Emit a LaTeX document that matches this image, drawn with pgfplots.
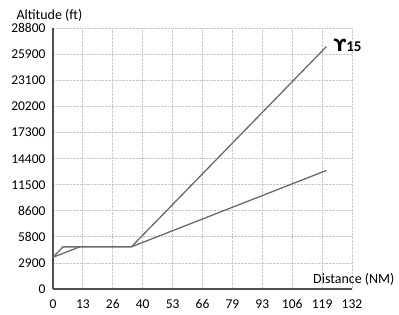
\documentclass[border=0pt]{standalone}
\usepackage{fontspec}
\setmainfont{Carlito}
\newfontfamily\dejavu{DejaVu Sans}
\usepackage{pgfplots}
\pgfplotsset{compat=1.18}
\usetikzlibrary{calc}
\definecolor{axgray}{HTML}{505050}
\definecolor{linegray}{HTML}{6A6A6A}
\definecolor{gridgray}{HTML}{C8C8C8}
\begin{document}
\begin{tikzpicture}
\begin{axis}[
  name=ax,
  scale only axis,
  width=299pt, height=261pt,
  xmin=0, xmax=132, ymin=0, ymax=28800,
  scaled ticks=false,
  axis x line*=bottom, axis y line*=left,
  axis line style={axgray, line width=1.2pt, -},
  xtick={0,13.2,26.4,39.6,52.8,66,79.2,92.4,105.6,118.8,132},
  xticklabels={0,13,26,40,53,66,79,93,106,119,132},
  ytick={0,2880,5760,8640,11520,14400,17280,20160,23040,25920,28800},
  yticklabels={0,2900,5800,8600,11500,14400,17300,20200,23100,25900,28800},
  major tick length=0pt,
  grid=major,
  major grid style={gridgray, densely dotted, line width=0.8pt},
  tick label style={font=\fontsize{13.5}{15}\selectfont, text=black},
  /pgf/number format/assume math mode=true,
  xticklabel style={anchor=base, yshift=-19pt},
  yticklabel style={anchor=base east, xshift=-4pt, yshift=-4.5pt},
  clip=false,
]
\addplot[linegray, line width=1.3pt] coordinates {(0,3500) (4.4,4650) (11.8,4650) (34.6,4650) (120.7,26750)};
\addplot[linegray, line width=1.3pt] coordinates {(0,3500) (11.8,4650)};
\addplot[linegray, line width=1.3pt] coordinates {(34.6,4650) (120.7,13080)};
\node[anchor=west, font=\fontsize{14}{16}\selectfont] at ($(rel axis cs:0,1)+(-40pt,12.5pt)$) {Altitude (ft)};
\node[anchor=east, font=\fontsize{14}{16}\selectfont] at ($(rel axis cs:1,0)+(46pt,10pt)$) {Distance (NM)};
\node[anchor=west, font=\bfseries, inner sep=0pt] at ($(axis cs:120.7,26750)+(7pt,1pt)$) {{\dejavu\fontsize{17}{19}\selectfont ϒ}{\fontsize{15}{17}\selectfont 15}};
\end{axis}
\pgfresetboundingbox
\path ($(ax.south west)+(-53pt,-25pt)$) rectangle ($(ax.north east)+(47pt,28pt)$);
\end{tikzpicture}
\end{document}
